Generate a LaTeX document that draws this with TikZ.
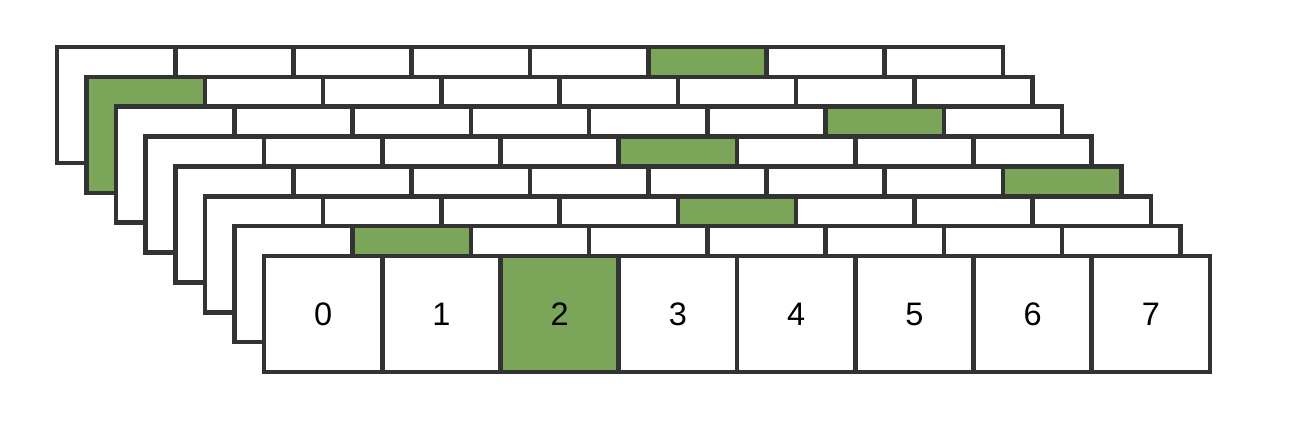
\documentclass[tikz,border=0pt]{standalone}
\usepackage{fontspec}
\setmainfont{Liberation Sans}
\definecolor{cellgreen}{HTML}{7BA65A}
\definecolor{cellline}{HTML}{333333}

\begin{document}
\begin{tikzpicture}[x=0.02cm,y=-0.02cm]
	\useasboundingbox (0,0) rectangle (1294,434);
	\begin{scope}[every node/.style={rectangle,draw=cellline,line width=2.6pt,
	              minimum width=2.365cm,minimum height=2.32cm,inner sep=0pt,outer sep=0pt,
	              anchor=north west,font=\fontsize{18.5}{22}\selectfont},
	              cellborder/.style={draw=cellline,line width=2.6pt}]
		% back layers, one green cell each
		\foreach \k/\g in {0/5,1/0,2/6,3/4,4/7,5/4,6/1} {
			\foreach \i in {0,...,7} {
				\ifnum\i=\g \def\cellfill{cellgreen}\else\def\cellfill{white}\fi
				\node[fill=\cellfill] (c\k-\i) at ({57+29.57*\k+118.25*\i},{47+29.86*\k}) {};
			}
			\foreach \i in {0,...,7}
				\path[cellborder] (c\k-\i.north west) rectangle (c\k-\i.south east);
		}
		% front layer
		\foreach \i in {0,...,7} {
			\ifnum\i=2 \def\cellfill{cellgreen}\else\def\cellfill{white}\fi
			\node[fill=\cellfill] (c7-\i) at ({264+118.25*\i},256) {\i};
		}
		\foreach \i in {0,...,7}
			\path[cellborder] (c7-\i.north west) rectangle (c7-\i.south east);
	\end{scope}
\end{tikzpicture}
\end{document}
